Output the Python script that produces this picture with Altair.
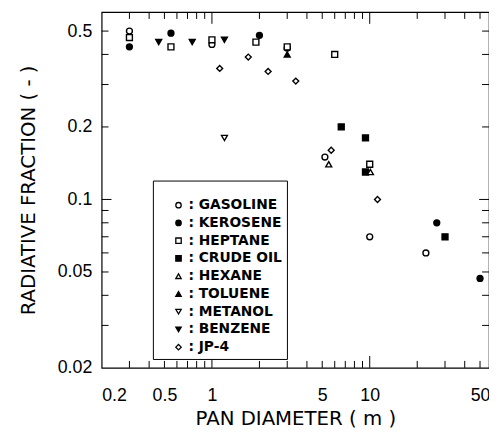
import altair as alt
import pandas as pd

fuels = ["GASOLINE", "KEROSENE", "HEPTANE", "CRUDE OIL", "HEXANE",
         "TOLUENE", "METANOL", "BENZENE", "JP-4"]
shapes = ["circle", "circle", "square", "square", "triangle-up",
          "triangle-up", "triangle-down", "triangle-down", "diamond"]
fills = ["white", "black", "white", "black", "white",
         "black", "white", "black", "white"]
strokes = ["black"] * 9

gasoline_d = [0.3, 1.0, 5.2, 10.0, 22.7]
gasoline_f = [0.50, 0.44, 0.15, 0.07, 0.06]
kerosene_d = [0.3, 0.55, 2.0, 3.0, 26.6, 50.0]
kerosene_f = [0.43, 0.49, 0.48, 0.425, 0.08, 0.047]
heptane_d = [0.3, 0.55, 1.0, 1.9, 3.0, 6.0, 10.0]
heptane_f = [0.47, 0.43, 0.46, 0.45, 0.43, 0.40, 0.14]
crude_d = [6.6, 9.4, 9.4, 30.0]
crude_f = [0.20, 0.18, 0.13, 0.07]
hexane_d = [5.5, 10.1]
hexane_f = [0.14, 0.13]
toluene_d = [3.0]
toluene_f = [0.40]
metanol_d = [1.2]
metanol_f = [0.18]
benzene_d = [0.46, 0.75, 1.2]
benzene_f = [0.45, 0.45, 0.46]
jp4_d = [1.12, 1.7, 2.27, 3.4, 5.7, 11.2]
jp4_f = [0.35, 0.39, 0.34, 0.31, 0.16, 0.10]

x_labels = [0.2, 0.5, 1, 5, 10, 50]
y_labels = [0.02, 0.05, 0.1, 0.2, 0.5]
x_minor = [0.3, 0.4, 0.5, 0.6, 0.7, 0.8, 0.9, 2, 3, 4, 5, 6, 7, 8, 9, 20, 30, 40, 50]
x_major = [1, 10]
y_minor = [0.03, 0.04, 0.05, 0.06, 0.07, 0.08, 0.09, 0.2, 0.3, 0.4, 0.5]
y_major = [0.1]

series = [gasoline_d, kerosene_d, heptane_d, crude_d, hexane_d,
          toluene_d, metanol_d, benzene_d, jp4_d]
series_f = [gasoline_f, kerosene_f, heptane_f, crude_f, hexane_f,
            toluene_f, metanol_f, benzene_f, jp4_f]

rows = []
for name, ds, fs in zip(fuels, series, series_f):
    for d, f in zip(ds, fs):
        rows.append({"fuel": name, "D": d, "F": f})
df = pd.DataFrame(rows)

W, H = 393, 361
xscale = alt.Scale(type="log", domain=[0.2, 57], nice=False)
yscale = alt.Scale(type="log", domain=[0.02, 0.6], nice=False)

legend = alt.Legend(
    title=" ", orient="none", legendX=52, legendY=171,
    strokeColor="black", fillColor="white", padding=5,
    labelFont="DejaVu Sans", labelFontWeight="bold", labelFontSize=14,
    labelColor="black", labelExpr="': ' + datum.label",
    symbolSize=30, symbolStrokeColor="black", symbolStrokeWidth=1.3,
    rowPadding=4, symbolOffset=14, labelOffset=3,
    titleFontSize=10, titlePadding=3,
)

xaxis = alt.Axis(values=x_labels, format="~g", title="PAN DIAMETER ( m )",
                 labelPadding=19, titlePadding=4)
yaxis = alt.Axis(values=y_labels, format="~g", title="RADIATIVE FRACTION ( - )",
                 labelPadding=10, titlePadding=19)

points = alt.Chart(df).mark_point(size=36, strokeWidth=1.4, opacity=1, filled=False).encode(
    x=alt.X("D:Q", scale=xscale, axis=xaxis),
    y=alt.Y("F:Q", scale=yscale, axis=yaxis),
    shape=alt.Shape("fuel:N", scale=alt.Scale(domain=fuels, range=shapes), legend=legend, sort=fuels),
    fill=alt.Fill("fuel:N", scale=alt.Scale(domain=fuels, range=fills), legend=legend, sort=fuels),
    stroke=alt.Stroke("fuel:N", scale=alt.Scale(domain=fuels, range=strokes), legend=legend, sort=fuels),
)


def xticks(vals, length, top):
    d = pd.DataFrame({"D": vals})
    if top:
        y, y2 = alt.value(0), alt.value(length)
    else:
        y, y2 = alt.value(H), alt.value(H - length)
    return alt.Chart(d).mark_rule(color="black", strokeWidth=1).encode(
        x=alt.X("D:Q", scale=xscale, axis=xaxis), y=y, y2=y2)


def yticks(vals, length, right):
    d = pd.DataFrame({"F": vals})
    if right:
        x, x2 = alt.value(W), alt.value(W - length)
    else:
        x, x2 = alt.value(0), alt.value(length)
    return alt.Chart(d).mark_rule(color="black", strokeWidth=1).encode(
        y=alt.Y("F:Q", scale=yscale, axis=yaxis), x=x, x2=x2)


layers = [
    points,
    xticks(x_minor, 7, False), xticks(x_major, 12, False),
    xticks(x_minor, 7, True), xticks(x_major, 12, True),
    yticks(y_minor, 7, False), yticks(y_major, 10, False),
    yticks(y_minor, 7, True), yticks(y_major, 10, True),
]

chart = alt.layer(*layers).properties(
    width=W, height=H,
    background="white",
    autosize=alt.AutoSizeParams(type="none"),
    padding={"left": 95, "top": 1, "right": 0, "bottom": 60},
).configure_view(
    stroke="black", strokeWidth=1.2
).configure_axis(
    domain=False, ticks=False, grid=False,
    labelFont="Liberation Sans", labelFontSize=18, labelColor="black",
    titleFont="DejaVu Sans", titleFontSize=20, titleFontWeight="normal", titleColor="black",
)

chart.save("out.html", embed_options={"renderer": "svg", "actions": False})
